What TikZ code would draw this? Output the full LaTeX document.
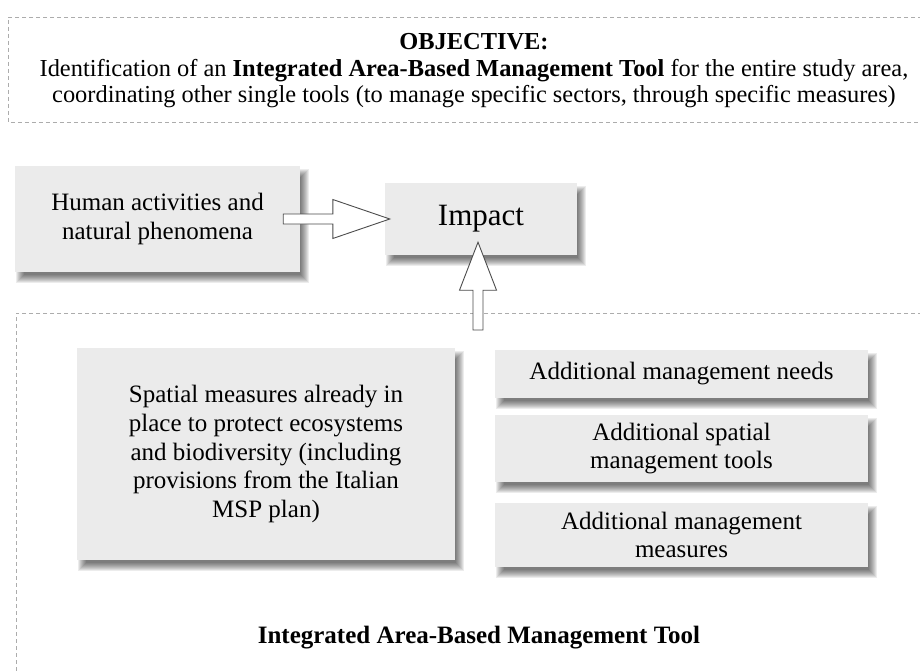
\documentclass[tikz,border=0pt]{standalone}
\usepackage{fontspec}
\setmainfont{Liberation Serif}
\usetikzlibrary{calc}
\pgfdeclarelayer{bg}
\pgfsetlayers{bg,main}
\tikzset{
  frame/.style={draw=gray!65, line width=0.8pt, dash pattern=on 4pt off 3pt},
  gbox/.style={fill=black!8, draw=none, inner sep=0pt, align=center,
    font=\fontsize{25}{28.7}\selectfont},
  softshadow/.style={fill=black, opacity=0.075},
  hollow/.style={draw=black!70, line width=0.9pt, fill=white, line join=miter}
}
\begin{document}
\begin{tikzpicture}[x=1pt,y=-1pt]
\useasboundingbox (0,0) rectangle (920,671);
\begin{pgfonlayer}{bg}
\fill[white] (0,0) rectangle (920,671);
\end{pgfonlayer}
% frames
\draw[frame] (922,17) -- (8,17) -- (8,122) -- (922,122);
\draw[frame] (922,313) -- (16,313) -- (16,673);
% objective text
\node[align=center, font=\fontsize{24.4}{26.5}\selectfont] (obj) at (474,71)
  {\textbf{OBJECTIVE:}\\
   Identification of an \textbf{Integrated Area-Based Management Tool} for the entire study area,\\
   coordinating other single tools (to manage specific sectors, through specific measures)};
% boxes
\node[gbox, minimum width=285pt, minimum height=106pt] (hum) at (157.5,219)
  {Human activities and\\natural phenomena};
\node[gbox, minimum width=192pt, minimum height=72pt, font=\fontsize{31}{34}\selectfont] (imp) at (481,219)
  {Impact};
\node[gbox, minimum width=378pt, minimum height=212pt] (spm) at (266,454)
  {Spatial measures already in\\place to protect ecosystems\\and biodiversity (including\\provisions from the Italian\\MSP plan)};
\node[gbox, minimum width=373pt, minimum height=48pt] (r1) at (681.5,374)
  {Additional management needs};
\node[gbox, minimum width=373pt, minimum height=67pt] (r2) at (681.5,448.5)
  {Additional spatial\\management tools};
\node[gbox, minimum width=373pt, minimum height=64pt] (r3) at (681.5,535)
  {Additional management\\measures};
\node[font=\fontsize{25}{28}\selectfont\bfseries] (iabm) at (479,638)
  {Integrated Area-Based Management Tool};
% soft shadows
\begin{pgfonlayer}{bg}
\foreach \n in {hum,imp,spm,r1,r2,r3}{
  \foreach \i in {-4,...,4}{
    \fill[softshadow] ($(\n.north west)+(5+\i,7+\i)$) rectangle ($(\n.south east)+(5-\i,7-\i)$);
  }
}
\end{pgfonlayer}
% hollow arrows
\coordinate (hA) at ($(hum.east)+(-17,0)$);
\coordinate (hB) at ($(imp.west)+(5,0)$);
\draw[hollow] ($(hA)+(0,-5)$) -- ($(hB)+(-57,-5)$) -- ($(hB)+(-57,-19.5)$) -- (hB)
  -- ($(hB)+(-57,19.5)$) -- ($(hB)+(-57,5)$) -- ($(hA)+(0,5)$) -- cycle;
\coordinate (vA) at (478,330);
\coordinate (vB) at ($(imp.south)+(-3,-13)$);
\draw[hollow] ($(vA)+(-5,0)$) -- ($(vB)+(-5,48)$) -- ($(vB)+(-18.5,48)$) -- (vB)
  -- ($(vB)+(18.5,48)$) -- ($(vB)+(5,48)$) -- ($(vA)+(5,0)$) -- cycle;
\end{tikzpicture}
\end{document}
